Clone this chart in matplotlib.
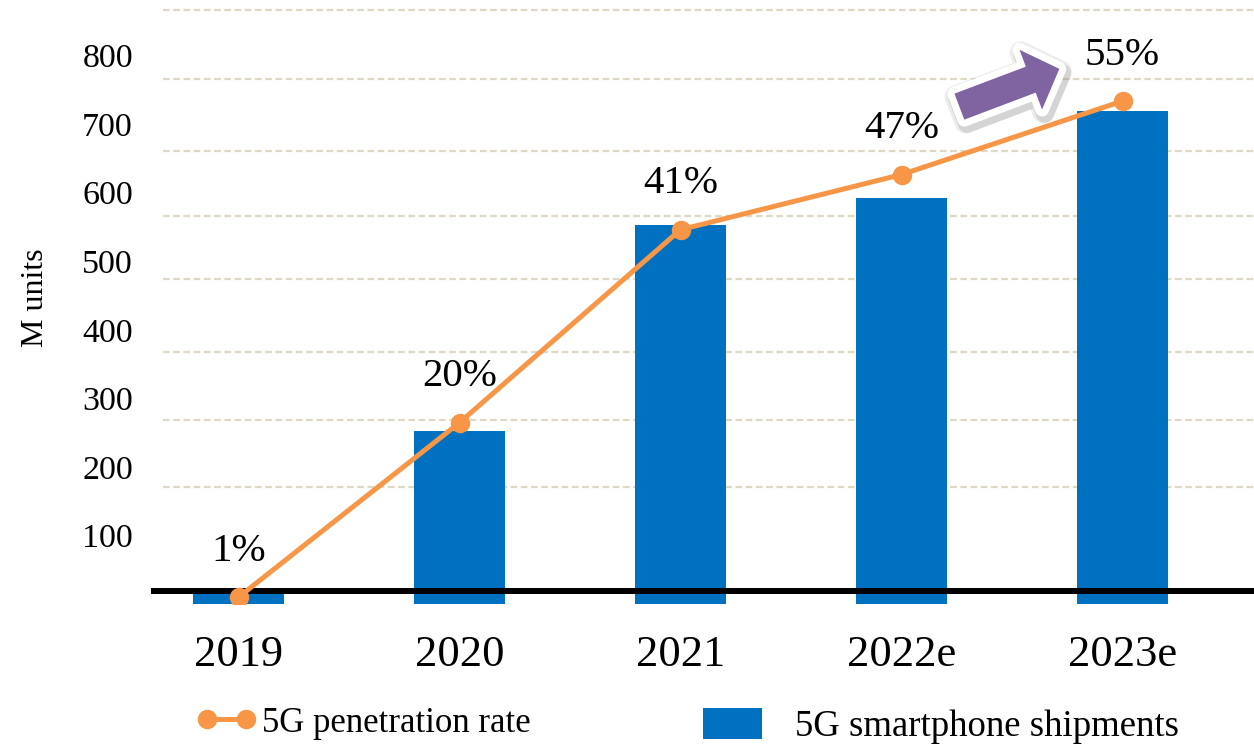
import matplotlib
matplotlib.use('Agg')
import matplotlib.pyplot as plt
import matplotlib.patheffects as pe
from matplotlib.patches import FancyArrowPatch, ArrowStyle

plt.rcParams['font.family'] = ['Liberation Serif', 'DejaVu Serif']

# data
years = ['2019', '2020', '2021', '2022e', '2023e']
shipments = [18, 252, 553, 592, 719]          # M units
penetration = [1, 20, 41, 47, 55]             # %
ytick_values = [100, 200, 300, 400, 500, 600, 700, 800]
grid_levels = [170, 268, 368, 474, 566, 661, 766, 866]

bar_color = '#0070C0'
line_color = '#F79646'
grid_color = '#DDD9C3'

fig = plt.figure(figsize=(12.54, 7.47), dpi=100)
ax = fig.add_axes([151 / 1254, 1 - 604 / 747, 1 - 151 / 1254, 604 / 747])

x = list(range(len(years)))
bars = ax.bar(x, shipments, width=0.41, color=bar_color, zorder=2,
              label='5G smartphone shipments')

# dashed gridlines and the heavy baseline
for g in grid_levels:
    ax.axhline(g, xmin=12 / 1103, color=grid_color, lw=1.6,
               ls=(0, (3, 1.6)), zorder=1)
ax.axhline(19, color='black', lw=4.3, zorder=3)

ax.set_xlim(-0.396, 4.595)
ax.set_ylim(0, 881)
ax.set_xticks(x)
ax.set_xticklabels(years, fontsize=32)
ax.set_yticks(ytick_values)
ax.set_yticklabels([str(v) for v in ytick_values], fontsize=24.5)
ax.tick_params(axis='both', length=0)
ax.tick_params(axis='x', pad=22)
ax.tick_params(axis='y', pad=13)
for s in ax.spines.values():
    s.set_visible(False)
ax.set_ylabel('M units', fontsize=23)
ax.yaxis.set_label_coords(-0.092, 0.507)

# penetration rate on its own scale
ax2 = ax.twinx()
ax2.set_ylim(0.26, 66.0)
ax2.axis('off')
line, = ax2.plot(x, penetration, color=line_color, lw=3.6, marker='o',
                 markersize=13, zorder=4, label='5G penetration rate')
for xi, p in zip(x, penetration):
    ax2.annotate(f'{p}%', (xi, p), xytext=(0, 33), textcoords='offset points',
                 ha='center', va='center', fontsize=29.5)

# trend arrow with white border and soft shadow
arrow = FancyArrowPatch((3.25, 724), (3.726, 782),
                        arrowstyle=ArrowStyle.Simple(head_length=22, head_width=46, tail_width=20),
                        mutation_scale=1, color='#8064A2', lw=0, zorder=6,
                        transform=ax.transData)
arrow.set_path_effects([
    pe.Stroke(linewidth=16, foreground='0.6', alpha=0.18, offset=(1, -2)),
    pe.Stroke(linewidth=13, foreground='0.5', alpha=0.22, offset=(2, -3)),
    pe.Stroke(linewidth=10, foreground='white'),
    pe.Normal(),
])
ax2.add_artist(arrow)

# legend
fig.legend(handles=[line], loc='center left', bbox_to_anchor=(197 / 1254, 1 - 723 / 747),
           frameon=False, fontsize=25, numpoints=2, handlelength=1.7,
           handletextpad=0.17, borderpad=0, borderaxespad=0)
fig.legend(handles=[bars], loc='center left', bbox_to_anchor=(703 / 1254, 1 - 726 / 747),
           frameon=False, fontsize=26.5, handlelength=1.6, handleheight=0.93,
           handletextpad=0.9, borderpad=0, borderaxespad=0)

fig.savefig('out.png', dpi=100)
